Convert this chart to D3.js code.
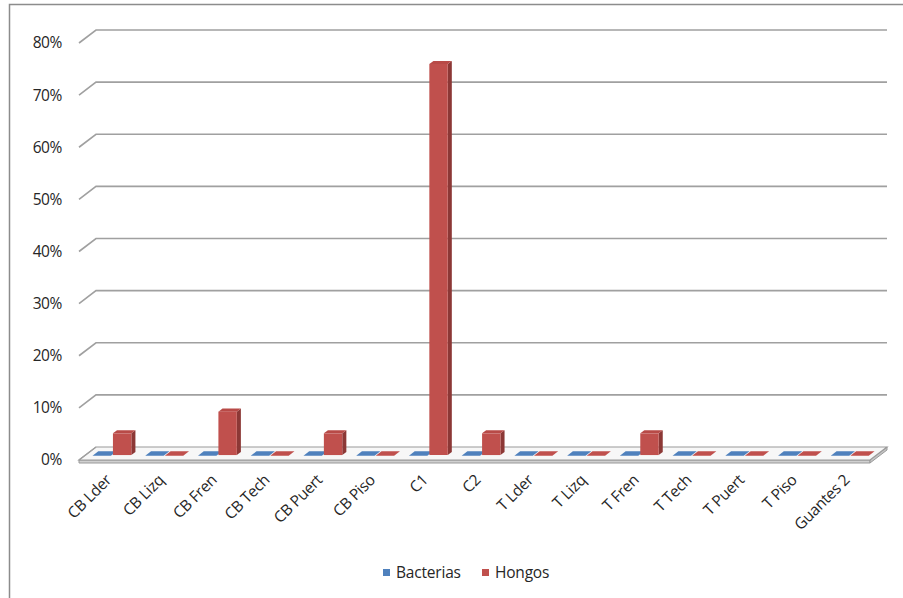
<!DOCTYPE html>
<html>
<head>
<meta charset="utf-8">
<script src="https://cdn.jsdelivr.net/npm/d3@7"></script>
<style>
  html, body { margin: 0; padding: 0; background: #fff; }
  svg { display: block; }
  text { font-family: "Open Sans", Lato, "Liberation Sans", sans-serif; fill: #262626; }
</style>
</head>
<body>
<svg id="chart" width="903" height="598"></svg>
<script>
// Sample sites and the share of positive samples per organism type
const categories = ["CB Lder", "CB Lizq", "CB Fren", "CB Tech", "CB Puert", "CB Piso", "C1", "C2",
                    "T Lder", "T Lizq", "T Fren", "T Tech", "T Puert", "T Piso", "Guantes 2"];
const seriesNames = ["Bacterias", "Hongos"];
const bacterias = [0, 0, 0, 0, 0, 0, 0, 0, 0, 0, 0, 0, 0, 0, 0];
const hongos = [0.0417, 0, 0.0833, 0, 0.0417, 0, 0.75, 0.0417, 0, 0, 0.0417, 0, 0, 0, 0];
const tickValues = [0, 0.1, 0.2, 0.3, 0.4, 0.5, 0.6, 0.7, 0.8];
const seriesColors = { Bacterias: "#4F81BD", Hongos: "#C0504D" };
const sideColors = { Bacterias: "#385D8A", Hongos: "#8C3836" };
const topColors = { Bacterias: "#4A7AB5", Hongos: "#B84A47" };

const valuesBySeries = { Bacterias: bacterias, Hongos: hongos };

const svg = d3.select("#chart");

// Outer chart frame
svg.append("rect")
  .attr("x", 9.5).attr("y", 4.5)
  .attr("width", 1000).attr("height", 1000)
  .attr("fill", "none").attr("stroke", "#8c8c8c").attr("stroke-width", 1.5);

// Oblique projection: front plane + depth offset
const DX = 17, DY = -13;
const xLeft = 79, xRight = 870;
const y = d3.scaleLinear().domain([0, 0.8]).range([460, 43]);
const x = d3.scaleBand().domain(categories).range([xLeft, xRight]).paddingInner(0).paddingOuter(0);
const bw = x.bandwidth();
const xs = d3.scaleBand().domain(seriesNames).range([0.15 * bw, 0.87 * bw]).paddingInner(0.06);

const P = (px, v, d) => [px + d * DX, y(v) + d * DY];
const poly = pts => pts.map(p => p.join(",")).join(" ");

// Floor slab
const gFloor = svg.append("g");
gFloor.append("polygon")
  .attr("points", poly([P(xLeft, 0, 0), P(xRight, 0, 0), [xRight, y(0) + 3], [xLeft, y(0) + 3]]))
  .attr("fill", "#d0d0d0").attr("stroke", "#9a9a9a").attr("stroke-width", 1);
gFloor.append("polygon")
  .attr("points", poly([P(xRight, 0, 0), P(xRight, 0, 1), [xRight + DX, y(0) + DY + 3], [xRight, y(0) + 3]]))
  .attr("fill", "#c4c4c4").attr("stroke", "#9a9a9a").attr("stroke-width", 1);
gFloor.append("polygon")
  .attr("points", poly([P(xLeft, 0, 0), P(xRight, 0, 0), P(xRight, 0, 1), P(xLeft, 0, 1)]))
  .attr("fill", "#f7f7f7").attr("stroke", "#9a9a9a").attr("stroke-width", 1.2);

// Gridlines on the side and back walls
const gGrid = svg.append("g");
tickValues.filter(v => v > 0).forEach(v => {
  gGrid.append("polyline")
    .attr("points", poly([P(xLeft, v, 0), P(xLeft, v, 1), P(xRight, v, 1)]))
    .attr("fill", "none").attr("stroke", "#a0a0a0").attr("stroke-width", 1.6);
});
gGrid.append("polyline")
  .attr("points", poly([P(xLeft, 0, 0), P(xLeft, 0, 1)]))
  .attr("fill", "none").attr("stroke", "#a0a0a0").attr("stroke-width", 1.2);

// Value axis labels
const fmt = d3.format(".0%");
svg.append("g").selectAll("text")
  .data(tickValues).join("text")
  .attr("x", 62).attr("y", d => y(d))
  .attr("dy", "0.35em")
  .attr("text-anchor", "end")
  .attr("font-size", 15.5)
  .attr("letter-spacing", -0.4)
  .text(d => fmt(d));

// Columns
const d1 = 0.38, d2 = 0.62;
const gBars = svg.append("g");
categories.forEach((cat, i) => {
  seriesNames.forEach(s => {
    const v = valuesBySeries[s][i];
    const x1 = x(cat) + xs(s);
    const x2 = x1 + xs.bandwidth();
    if (v > 0) {
      gBars.append("polygon")
        .attr("points", poly([P(x2, 0, d1), P(x2, v, d1), P(x2, v, d2), P(x2, 0, d2)]))
        .attr("fill", sideColors[s]);
      gBars.append("polygon")
        .attr("points", poly([P(x1, v, d1), P(x2, v, d1), P(x2, v, d2), P(x1, v, d2)]))
        .attr("fill", topColors[s]);
      gBars.append("polygon")
        .attr("points", poly([P(x1, 0, d1), P(x2, 0, d1), P(x2, v, d1), P(x1, v, d1)]))
        .attr("fill", seriesColors[s]);
    } else {
      gBars.append("polygon")
        .attr("points", poly([P(x1, 0, d1 - 0.05), P(x2, 0, d1 - 0.05), P(x2, 0, d2 + 0.05), P(x1, 0, d2 + 0.05)]))
        .attr("fill", seriesColors[s]);
    }
  });
});

// Category labels, rotated
svg.append("g").selectAll("text")
  .data(categories).join("text")
  .attr("transform", d => `translate(${x(d) + bw / 2 + 7},${481}) rotate(-45)`)
  .attr("text-anchor", "end")
  .attr("font-size", 15.5)
  .attr("letter-spacing", -0.3)
  .text(d => d);

// Legend
const legend = svg.append("g").attr("transform", "translate(383,573)");
const legendItems = [{ name: "Bacterias", x: 0 }, { name: "Hongos", x: 99 }];
legendItems.forEach(item => {
  legend.append("rect")
    .attr("x", item.x).attr("y", -4)
    .attr("width", 7).attr("height", 7)
    .attr("fill", seriesColors[item.name]);
  legend.append("text")
    .attr("x", item.x + 13).attr("y", 0)
    .attr("dy", "0.35em")
    .attr("font-size", 15.5)
    .attr("letter-spacing", -0.2)
    .text(item.name);
});
</script>
</body>
</html>
